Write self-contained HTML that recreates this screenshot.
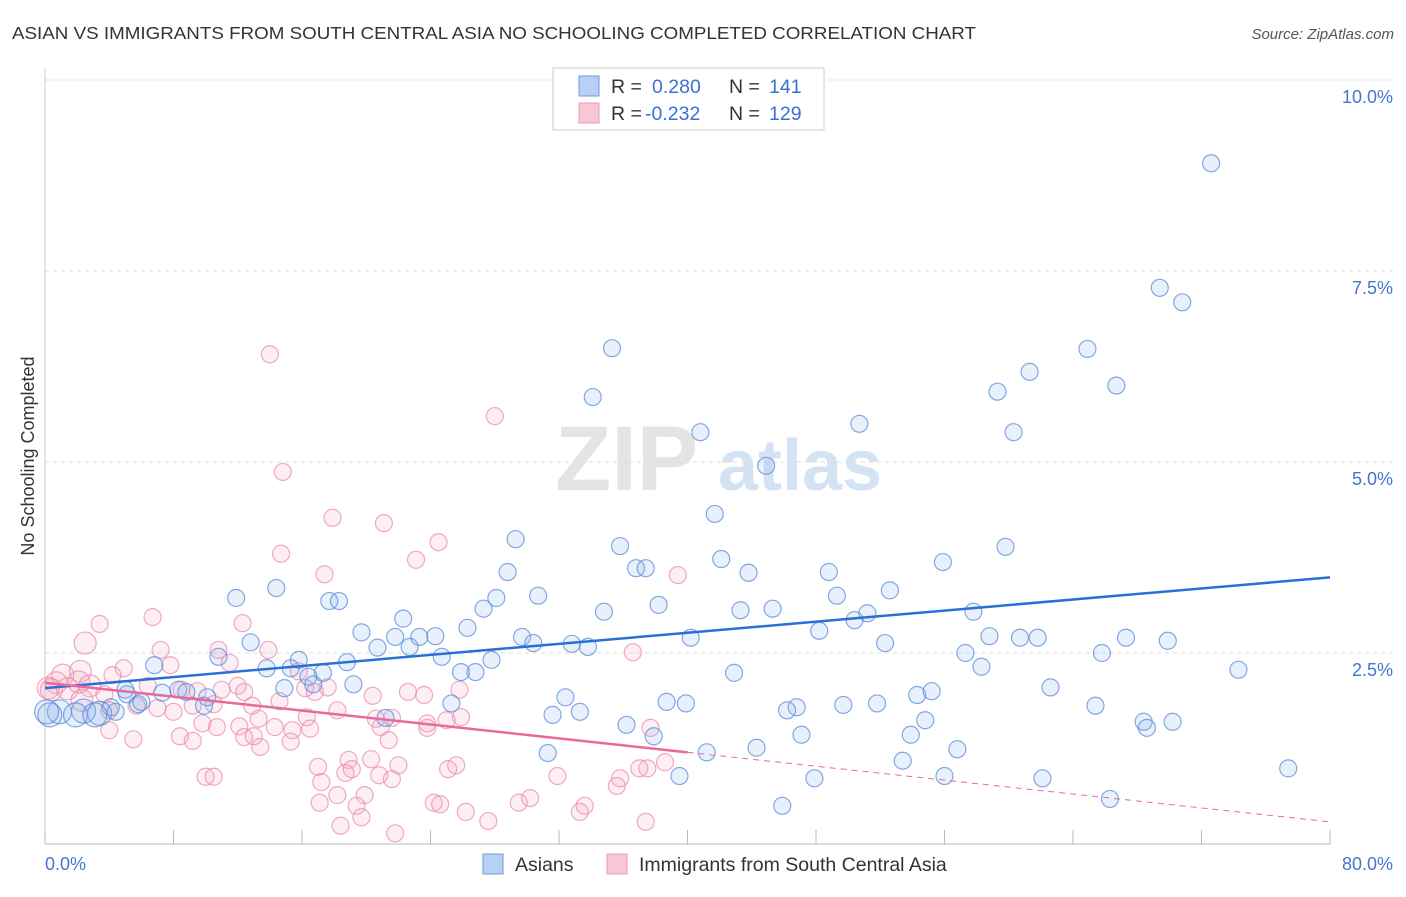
<!DOCTYPE html>
<html><head><meta charset="utf-8"><style>
body{margin:0;background:#fff;font-family:"Liberation Sans",sans-serif;}
svg text{font-family:"Liberation Sans",sans-serif;}
</style></head><body>
<svg id="chart" width="1406" height="892" xmlns="http://www.w3.org/2000/svg">
<text x="12" y="39" font-size="17.5" fill="#333" textLength="964" lengthAdjust="spacingAndGlyphs">ASIAN VS IMMIGRANTS FROM SOUTH CENTRAL ASIA NO SCHOOLING COMPLETED CORRELATION CHART</text>
<text x="1394" y="39" font-size="15" fill="#555" text-anchor="end" font-style="italic">Source: ZipAtlas.com</text>
<g>
<text x="555" y="490" font-size="92" fill="#e4e4e4" font-family="Liberation Serif,serif" font-weight="bold">ZIP</text>
<text x="718" y="490" font-size="72" fill="#d4e3f4" font-weight="bold">atlas</text>
</g>
<g id="grid"></g>
<text transform="translate(34,456) rotate(-90)" font-size="18" fill="#333" text-anchor="middle">No Schooling Completed</text>
<g id="pinkpts"></g>
<g id="bluepts"></g>
<g id="trends"></g>
<g>
<rect x="553" y="68" width="271" height="62" fill="#fff" stroke="#ccc"/>
<rect x="579" y="76" width="20" height="20" fill="#b8d0f3" stroke="#6a9de0"/>
<text x="611" y="93" font-size="19.5" fill="#333">R =</text>
<text x="652" y="93" font-size="19.5" fill="#3a70d0">0.280</text>
<text x="729" y="93" font-size="19.5" fill="#333">N =</text>
<text x="769" y="93" font-size="19.5" fill="#3a70d0">141</text>
<rect x="579" y="103" width="20" height="20" fill="#f8c6d6" stroke="#ec9ab4"/>
<text x="611" y="120" font-size="19.5" fill="#333">R =</text>
<text x="645" y="120" font-size="19.5" fill="#3a70d0">-0.232</text>
<text x="729" y="120" font-size="19.5" fill="#333">N =</text>
<text x="769" y="120" font-size="19.5" fill="#3a70d0">129</text>
</g>
<g>
<rect x="483" y="854" width="20" height="20" fill="#b8d0f3" stroke="#6a9de0"/>
<text x="515" y="871" font-size="19.5" fill="#333">Asians</text>
<rect x="607" y="854" width="20" height="20" fill="#f8c6d6" stroke="#ec9ab4"/>
<text x="639" y="871" font-size="19.5" fill="#333">Immigrants from South Central Asia</text>
</g>
</svg>
<script>
const yTicks=[2.5,5.0,7.5,10.0];
const yTickLabels=["2.5%","5.0%","7.5%","10.0%"];
const xTicks=[0,8,16,24,32,40,48,56,64,72,80];
const xEndLabels=["0.0%","80.0%"];
const blueX=[72.6,69.4,70.8,35.3,64.9,61.3,66.7,59.3,34.1,50.7,40.8,60.3,44.9,41.7,29.3,35.8,59.8,42.1,55.9,36.8,37.4,28.8,43.8,48.8,14.4,11.9,30.7,52.6,49.3,28.1,17.7,18.3,38.2,34.8,43.3,45.3,57.8,27.3,51.2,50.4,22.3,26.3,48.2,19.7,58.8,60.7,61.8,67.3,69.9,40.2,52.3,29.7,30.4,32.8,33.8,23.3,24.3,21.8,12.8,20.7,22.7,57.3,65.8,15.8,24.7,18.8,10.8,27.8,25.9,26.8,13.8,15.3,17.3,58.3,74.3,42.9,16.4,6.8,19.2,62.6,55.2,14.9,16.7,8.3,54.3,8.8,10.1,32.4,7.3,5.1,38.7,39.9,25.3,49.7,51.8,46.8,46.2,65.4,33.3,31.6,9.9,5.8,4.1,3.4,2.4,0.9,21.2,54.8,68.4,68.6,70.2,36.2,37.9,53.9,47.1,44.3,31.3,41.2,56.8,53.4,77.4,39.5,47.9,56.0,62.1,45.9,66.3,0.3,1.9,3.1,4.4,5.0,6.0,0.1];
const blueY=[8.91,7.28,7.09,6.49,6.48,6.18,6.00,5.92,5.85,5.50,5.39,5.39,4.95,4.32,3.99,3.90,3.89,3.73,3.69,3.61,3.61,3.56,3.55,3.56,3.35,3.22,3.25,3.32,3.25,3.22,3.18,3.18,3.13,3.04,3.06,3.08,3.04,3.08,3.02,2.93,2.95,2.83,2.79,2.77,2.72,2.70,2.70,2.70,2.66,2.70,2.63,2.71,2.63,2.62,2.58,2.71,2.72,2.71,2.64,2.57,2.58,2.50,2.50,2.41,2.45,2.38,2.45,2.41,2.25,2.25,2.30,2.30,2.24,2.32,2.28,2.24,2.19,2.34,2.09,2.05,2.00,2.04,2.09,2.02,1.95,1.99,1.92,1.92,1.98,1.96,1.86,1.84,1.84,1.82,1.84,1.79,1.75,1.81,1.73,1.69,1.81,1.83,1.79,1.71,1.74,1.73,1.65,1.62,1.60,1.52,1.60,1.56,1.41,1.43,1.43,1.26,1.19,1.20,1.24,1.09,0.99,0.89,0.86,0.89,0.86,0.50,0.59,1.69,1.69,1.69,1.73,2.02,1.86,1.73];
const pinkX=[14.0,28.0,14.8,17.9,21.1,24.5,14.7,23.1,17.4,39.4,6.7,3.4,2.5,12.3,7.2,10.8,13.9,7.8,4.9,4.2,11.5,2.2,1.1,0.7,1.4,0.2,0.4,2.1,2.8,3.7,6.4,8.5,9.5,11.0,12.0,15.8,16.2,17.6,12.4,14.6,16.8,20.4,22.6,23.6,25.8,5.7,7.0,8.0,9.2,10.5,12.9,16.3,18.2,20.6,21.6,23.8,25.0,25.9,36.6,4.0,2.3,9.8,10.7,12.1,13.3,14.3,15.4,16.5,20.9,21.4,23.8,5.5,4.0,8.4,9.2,12.4,13.0,13.4,15.3,18.9,20.3,22.0,25.6,25.1,19.1,21.6,20.8,17.0,17.2,38.6,37.5,35.8,31.9,10.0,10.5,18.7,19.9,18.2,17.1,24.2,24.6,29.5,30.2,33.6,33.3,26.2,27.6,19.4,19.7,18.4,21.8,37.4,37.7,35.6,37.0];
const pinkY=[6.41,5.60,4.87,4.27,4.20,3.95,3.80,3.72,3.53,3.52,2.97,2.88,2.63,2.89,2.54,2.54,2.54,2.34,2.30,2.21,2.37,2.26,2.21,2.11,2.03,2.04,2.02,2.12,2.07,1.96,2.07,2.02,2.00,2.02,2.07,2.26,2.04,2.05,1.99,1.87,1.99,1.94,1.99,1.95,2.02,1.81,1.78,1.73,1.81,1.83,1.81,1.66,1.75,1.64,1.65,1.58,1.62,1.66,2.51,1.75,1.88,1.58,1.53,1.54,1.64,1.53,1.49,1.51,1.53,1.36,1.52,1.37,1.49,1.41,1.35,1.40,1.41,1.27,1.34,1.10,1.11,1.03,1.03,0.98,0.98,0.85,0.90,1.01,0.81,1.07,0.99,0.86,0.89,0.88,0.88,0.93,0.64,0.64,0.54,0.54,0.52,0.54,0.60,0.50,0.42,0.42,0.30,0.50,0.35,0.24,0.14,0.29,1.52,0.76,0.99];
const blueTrend=[2.04,3.49];   // y at x=0 and x=80
const pinkTrend=[2.11,0.29];   // y at x=0 and x=80
const pinkSolidEnd=40;

const NS="http://www.w3.org/2000/svg";
const X0=45,X1=1330,Y0=844,Y10=80;
const sx=v=>X0+(v/80)*(X1-X0);
const sy=v=>Y0-(v/10)*(Y0-Y10);
function mk(tag,attrs,parent){const e=document.createElementNS(NS,tag);for(const k in attrs)e.setAttribute(k,attrs[k]);parent.appendChild(e);return e;}
const grid=document.getElementById('grid');
yTicks.forEach((t,i)=>{
  const l=mk('line',{x1:X0,x2:1395,y1:sy(t),y2:sy(t),stroke:'#ddd','stroke-dasharray':'4,4'},grid);
  
  
  const tx=mk('text',{x:1393,y:sy(t)+23,'font-size':18,fill:'#4477cc','text-anchor':'end'},grid);
  tx.textContent=yTickLabels[i];
  
  
});
const ax=mk('line',{x1:X0,x2:X1,y1:Y0,y2:Y0,stroke:'#bbb'},grid);


const ay=mk('line',{x1:X0,x2:X0,y1:68,y2:Y0,stroke:'#ccc'},grid);


xTicks.forEach(t=>{
  const l=mk('line',{x1:sx(t),x2:sx(t),y1:Y0-14,y2:Y0,stroke:'#bbb'},grid);
  
  
});
const xl0=mk('text',{x:X0,y:870,'font-size':18,fill:'#4477cc','text-anchor':'start'},grid);
xl0.textContent=xEndLabels[0];


const xl1=mk('text',{x:1393,y:870,'font-size':18,fill:'#4477cc','text-anchor':'end'},grid);
xl1.textContent=xEndLabels[1];



const pg=document.getElementById('pinkpts');
pinkX.forEach((v,i)=>{
  const c=mk('circle',{cx:sx(v),cy:sy(pinkY[i]),r:(v<3?11:8.5),fill:'rgba(245,160,190,0.18)',stroke:'rgba(236,140,172,0.75)','stroke-width':1.2},pg);
  
  
});
const bg=document.getElementById('bluepts');
blueX.forEach((v,i)=>{
  const c=mk('circle',{cx:sx(v),cy:sy(blueY[i]),r:(v<3.5?12:8.5),fill:'rgba(130,170,235,0.18)',stroke:'rgba(90,140,220,0.75)','stroke-width':1.2},bg);
  
  
});
const tg=document.getElementById('trends');
const bl=mk('line',{x1:sx(0),y1:sy(blueTrend[0]),x2:sx(80),y2:sy(blueTrend[1]),stroke:'#2a6fd6','stroke-width':2.5},tg);


const py=x=>pinkTrend[0]+(pinkTrend[1]-pinkTrend[0])*x/80;
const pl=mk('line',{x1:sx(0),y1:sy(py(0)),x2:sx(pinkSolidEnd),y2:sy(py(pinkSolidEnd)),stroke:'#e8699a','stroke-width':2.5},tg);


const pd=mk('line',{x1:sx(pinkSolidEnd),y1:sy(py(pinkSolidEnd)),x2:sx(80),y2:sy(py(80)),stroke:'#e8699a','stroke-width':1,'stroke-dasharray':'6,5'},tg);


</script>
</body></html>
